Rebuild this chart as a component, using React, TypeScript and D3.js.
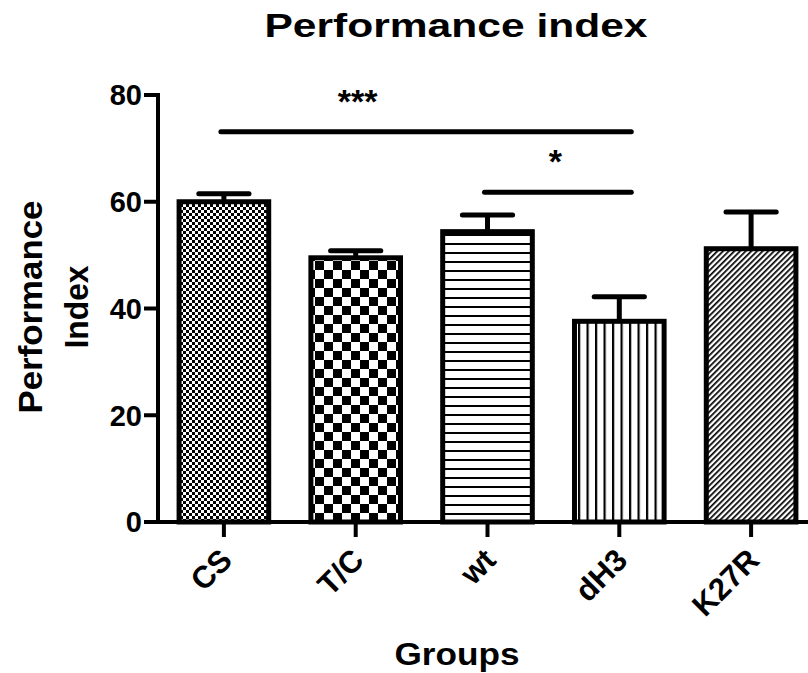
import React from 'react';
import * as d3 from 'd3';

const groups = ['CS', 'T/C', 'wt', 'dH3', 'K27R'];
const means = [60.0, 49.5, 54.4, 37.6, 51.2];
const sems = [1.5, 1.3, 3.1, 4.6, 6.9];
const fills = ['fineCheck', 'bigCheck', 'hLines', 'vLines', 'diagLines'];
const yTicks = [0, 20, 40, 60, 80];

const sigFrom = ['CS', 'wt'];
const sigTo = ['dH3', 'dH3'];
const sigLevel = [73.1, 61.8];
const sigText = ['***', '*'];
const sigTextOver = [['CS', 'wt'], ['wt', 'dH3']];

const font = "Arial, 'Liberation Sans', sans-serif";

export default function App() {
    const width = 808, height = 673;
    const margin = { top: 95, right: 0, bottom: 151, left: 158 };

    const x = d3.scaleBand()
        .domain(groups)
        .range([margin.left, 817])
        .paddingInner(0.32)
        .paddingOuter(0.16);

    const y = d3.scaleLinear()
        .domain([0, 80])
        .range([height - margin.bottom, margin.top]);

    const bw = x.bandwidth();
    const mid = (g: string) => (x(g) as number) + bw / 2;
    const capW = bw * 0.56;

    const data = groups.map((g, i) => ({ g, mean: means[i], sem: sems[i], fill: fills[i] }));

    return <svg width={width} height={height} style={{ position: 'absolute', left: 0, top: 0, background: '#fff' }}>
        <defs>
            <pattern id="fineCheck" patternUnits="userSpaceOnUse" width={6} height={6}>
                <rect width={6} height={6} fill="#fff" />
                <rect x={0} y={0} width={3} height={3} fill="#000" />
                <rect x={3} y={3} width={3} height={3} fill="#000" />
            </pattern>
            <pattern id="bigCheck" patternUnits="userSpaceOnUse" width={18} height={18}>
                <rect width={18} height={18} fill="#fff" />
                <rect x={0} y={0} width={9} height={9} fill="#000" />
                <rect x={9} y={9} width={9} height={9} fill="#000" />
            </pattern>
            <pattern id="hLines" patternUnits="userSpaceOnUse" width={9} height={9}>
                <rect width={9} height={9} fill="#fff" />
                <rect x={0} y={0} width={9} height={2} fill="#000" />
            </pattern>
            <pattern id="vLines" patternUnits="userSpaceOnUse" width={8.5} height={8.5}>
                <rect width={8.5} height={8.5} fill="#fff" />
                <rect x={0} y={0} width={2.2} height={8.5} fill="#000" />
            </pattern>
            <pattern id="diagLines" patternUnits="userSpaceOnUse" width={4} height={4} patternTransform="rotate(45)">
                <rect width={4} height={4} fill="#fff" />
                <rect x={0} y={0} width={1.7} height={4} fill="#000" />
            </pattern>
        </defs>

        <text x={456} y={37} textAnchor="middle" fontFamily={font} fontWeight="bold" fontSize={33}
            textLength={383} lengthAdjust="spacingAndGlyphs">Performance index</text>

        {/* bars */}
        {data.map(d => (
            <g key={d.g}>
                <line x1={mid(d.g)} x2={mid(d.g)} y1={y(d.mean)} y2={y(d.mean + d.sem)} stroke="#000" strokeWidth={5} />
                <line x1={mid(d.g) - capW / 2} x2={mid(d.g) + capW / 2} y1={y(d.mean + d.sem)} y2={y(d.mean + d.sem)}
                    stroke="#000" strokeWidth={5} strokeLinecap="round" />
                <rect x={x(d.g)} y={y(d.mean)} width={bw} height={y(0) - y(d.mean)}
                    fill={`url(#${d.fill})`} stroke="#000" strokeWidth={5} />
            </g>
        ))}

        {/* significance bars */}
        {sigFrom.map((f, i) => (
            <g key={i}>
                <line x1={mid(f) - 3} x2={mid(sigTo[i]) + 12} y1={y(sigLevel[i])} y2={y(sigLevel[i])}
                    stroke="#000" strokeWidth={5} strokeLinecap="round" />
                <text x={(mid(sigTextOver[i][0]) + mid(sigTextOver[i][1])) / 2 + 2} y={y(sigLevel[i]) - 19}
                    textAnchor="middle" fontFamily={font} fontWeight="bold" fontSize={34}>{sigText[i]}</text>
            </g>
        ))}

        {/* y axis */}
        <line x1={margin.left} x2={margin.left} y1={y(80) - 2} y2={y(0)} stroke="#000" strokeWidth={4} />
        {yTicks.map(t => (
            <g key={t}>
                <line x1={margin.left - 14} x2={margin.left} y1={y(t)} y2={y(t)} stroke="#000" strokeWidth={4} />
                <text x={margin.left - 16} y={y(t)} dy="0.36em" textAnchor="end" fontFamily={font}
                    fontWeight="bold" fontSize={29}>{t}</text>
            </g>
        ))}

        {/* x axis */}
        <line x1={margin.left - 2} x2={width} y1={y(0)} y2={y(0)} stroke="#000" strokeWidth={4} />
        {groups.map(g => (
            <g key={g}>
                <line x1={mid(g)} x2={mid(g)} y1={y(0)} y2={y(0) + 15} stroke="#000" strokeWidth={4} />
                <text transform={`translate(${mid(g) + 10},${y(0) + 40}) rotate(-45)`} textAnchor="end"
                    fontFamily={font} fontWeight="bold" fontSize={31}>{g}</text>
            </g>
        ))}

        <text x={457} y={665} textAnchor="middle" fontFamily={font} fontWeight="bold" fontSize={32}
            textLength={125} lengthAdjust="spacingAndGlyphs">Groups</text>

        <text transform={`translate(42,307) rotate(-90)`} textAnchor="middle" fontFamily={font}
            fontWeight="bold" fontSize={34} textLength={213} lengthAdjust="spacingAndGlyphs">Performance</text>
        <text transform={`translate(88,307) rotate(-90)`} textAnchor="middle" fontFamily={font}
            fontWeight="bold" fontSize={34} textLength={83} lengthAdjust="spacingAndGlyphs">Index</text>
    </svg>
}
